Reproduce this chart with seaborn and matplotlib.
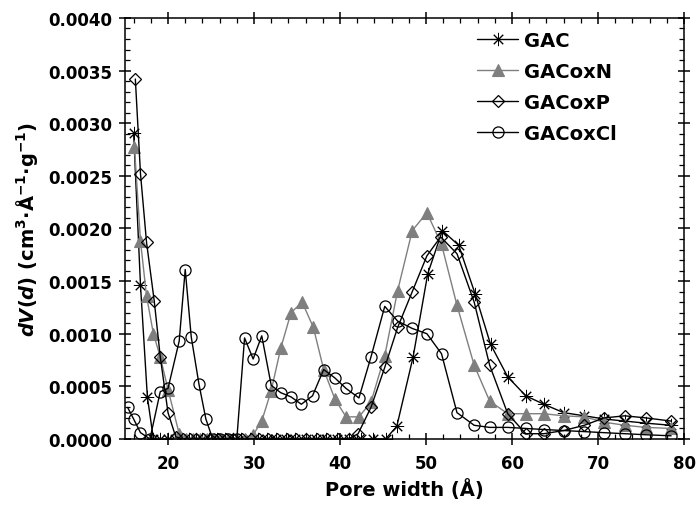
import matplotlib
matplotlib.use("Agg")
import matplotlib.pyplot as plt
from matplotlib.ticker import MultipleLocator, FormatStrFormatter
from matplotlib.lines import Line2D
import pandas as pd
import seaborn as sns

# Pore size distributions (DFT), dV(d) in cm3/(Å·g)
gac_x = [16.0, 16.8, 17.6, 18.3, 19.1, 20.0, 20.8, 21.6, 22.4, 23.2, 24.0, 24.8,
         25.7, 26.6, 27.5, 28.5, 29.5, 30.5, 31.5, 32.6, 33.7, 34.8, 36.0, 37.2,
         38.4, 39.7, 41.0, 42.4, 43.8, 45.3, 46.6, 48.5, 50.2, 51.9, 53.8, 55.7,
         57.5, 59.5, 61.6, 63.7, 66.0, 68.4, 70.7, 73.1, 75.6, 78.5]
gac_y = [0.00291, 0.00146, 0.00040, 0.0, 0.0, 0.0, 0.0, 0.0, 0.0, 0.0, 0.0, 0.0,
         0.0, 0.0, 0.0, 0.0, 0.0, 0.0, 0.0, 0.0, 0.0, 0.0, 0.0, 0.0,
         0.0, 0.0, 0.0, 0.0, 0.0, 0.0, 0.00012, 0.00078, 0.00157, 0.00198, 0.00184, 0.00138,
         0.00090, 0.00059, 0.00041, 0.00033, 0.00025, 0.00022, 0.00019, 0.00017, 0.00015, 0.00013]

gacoxn_x = [16.1, 16.8, 17.5, 18.3, 19.1, 20.0, 21.3, 22.1, 22.9, 23.7, 24.5, 25.3,
            26.1, 27.0, 28.0, 28.9, 29.9, 30.9, 32.0, 33.1, 34.3, 35.6, 36.9, 38.1,
            39.4, 40.7, 42.2, 43.6, 45.2, 46.7, 48.4, 50.1, 51.8, 53.6, 55.6, 57.4,
            59.5, 61.6, 63.7, 66.0, 68.4, 70.7, 73.1, 75.6, 78.5]
gacoxn_y = [0.00277, 0.00188, 0.00136, 0.00100, 0.00078, 0.00047, 0.00005, 0.0, 0.0, 0.0, 0.0, 0.0,
            0.0, 0.0, 0.0, 0.0, 0.00004, 0.00017, 0.00046, 0.00086, 0.00120, 0.00130, 0.00106, 0.00066,
            0.00038, 0.00021, 0.00021, 0.00035, 0.00079, 0.00141, 0.00198, 0.00215, 0.00185, 0.00127, 0.00070, 0.00036,
            0.00024, 0.00024, 0.00024, 0.00022, 0.00021, 0.00016, 0.00013, 0.00011, 0.00010]

gacoxp_x = [16.2, 16.8, 17.5, 18.4, 19.1, 20.0, 20.9, 21.7, 22.5, 23.3, 24.1, 24.9,
            25.8, 26.7, 27.6, 28.6, 29.6, 30.6, 31.6, 32.7, 33.8, 34.9, 36.1, 37.3,
            38.5, 39.8, 41.0, 42.1, 43.6, 45.2, 46.7, 48.4, 50.1, 51.7, 53.6, 55.6,
            57.4, 59.5, 61.6, 63.7, 66.0, 68.4, 70.7, 73.1, 75.6, 78.5]
gacoxp_y = [0.00342, 0.00252, 0.00187, 0.00131, 0.00078, 0.00025, 0.00002, 0.0, 0.0, 0.0, 0.0, 0.0,
            0.0, 0.0, 0.0, 0.0, 0.0, 0.0, 0.0, 0.0, 0.0, 0.0, 0.0, 0.0,
            0.0, 0.0, 0.0, 0.00005, 0.00030, 0.00068, 0.00106, 0.00140, 0.00174, 0.00192, 0.00176, 0.00130,
            0.00070, 0.00024, 0.00005, 0.00005, 0.00008, 0.00013, 0.00020, 0.00022, 0.00020, 0.00017]

gacoxcl_x = [15.3, 16.0, 16.8, 17.9, 19.1, 20.0, 21.3, 22.0, 22.7, 23.6, 24.4, 25.2,
             26.1, 27.0, 28.0, 28.9, 29.9, 30.9, 32.0, 33.1, 34.3, 35.5, 36.8, 38.1,
             39.4, 40.7, 42.2, 43.6, 45.2, 46.7, 48.4, 50.1, 51.8, 53.6, 55.6, 57.4,
             59.5, 61.6, 63.7, 66.0, 68.4, 70.7, 73.1, 75.6, 78.5]
gacoxcl_y = [0.00030, 0.00019, 0.00006, 0.0, 0.00045, 0.00048, 0.00093, 0.00161, 0.00097, 0.00052, 0.00019, 0.0,
             0.0, 0.0, 0.0, 0.00096, 0.00076, 0.00098, 0.00051, 0.00044, 0.00040, 0.00033, 0.00041, 0.00066,
             0.00058, 0.00048, 0.00039, 0.00078, 0.00126, 0.00112, 0.00105, 0.00100, 0.00081, 0.00025, 0.00013, 0.00011,
             0.00011, 0.00010, 0.00009, 0.00008, 0.00007, 0.00006, 0.00005, 0.00004, 0.00003]

series_names = ["GAC", "GACoxN", "GACoxP", "GACoxCl"]
series_data = {
    "GAC": (gac_x, gac_y),
    "GACoxN": (gacoxn_x, gacoxn_y),
    "GACoxP": (gacoxp_x, gacoxp_y),
    "GACoxCl": (gacoxcl_x, gacoxcl_y),
}

frames = []
for name in series_names:
    xs, ys = series_data[name]
    frames.append(pd.DataFrame({"pore": xs, "dv": ys, "sample": name}))
df = pd.concat(frames, ignore_index=True)

sns.set_theme(style="ticks")
plt.rcParams["font.family"] = ["DejaVu Sans"]
plt.rcParams["font.weight"] = "bold"
plt.rcParams["text.color"] = "black"
plt.rcParams["axes.labelcolor"] = "black"
plt.rcParams["xtick.color"] = "black"
plt.rcParams["ytick.color"] = "black"
plt.rcParams["mathtext.fontset"] = "custom"
plt.rcParams["mathtext.rm"] = "DejaVu Sans:bold"
plt.rcParams["mathtext.bf"] = "DejaVu Sans:bold"
plt.rcParams["mathtext.it"] = "DejaVu Sans:italic:bold"
plt.rcParams["mathtext.default"] = "bf"

GREY = "#7f7f7f"
styles = {
    "GAC": dict(color="black", marker=(8, 2, 0), markersize=9.5, mfc="none", mec="black", mew=0.7),
    "GACoxN": dict(color=GREY, marker="^", markersize=8, mfc=GREY, mec=GREY, mew=0.8),
    "GACoxP": dict(color="black", marker="D", markersize=5.8, mfc="none", mec="black", mew=0.9),
    "GACoxCl": dict(color="black", marker="o", markersize=8, mfc="none", mec="black", mew=0.9),
}

fig = plt.figure(figsize=(6.98, 5.10), dpi=100)
ax = fig.add_axes([0.1791, 0.1373, 0.8009, 0.8255])

for name in series_names:
    sub = df[df["sample"] == name]
    sns.lineplot(data=sub, x="pore", y="dv", ax=ax, estimator=None, sort=False,
                 linewidth=1.0, label=name, **styles[name])

ax.set_xlim(15, 80)
ax.set_ylim(0, 0.004)
ax.xaxis.set_major_locator(MultipleLocator(10))
ax.xaxis.set_minor_locator(MultipleLocator(2))
ax.yaxis.set_major_locator(MultipleLocator(0.0005))
ax.yaxis.set_minor_locator(MultipleLocator(0.0001))
ax.yaxis.set_major_formatter(FormatStrFormatter("%.4f"))

for side in ["left", "right", "top", "bottom"]:
    ax.spines[side].set_visible(True)
    ax.spines[side].set_linewidth(1.1)
    ax.spines[side].set_color("black")

ax.tick_params(which="major", direction="inout", length=9, width=1.1,
               top=True, right=True, labelsize=12, colors="black")
ax.tick_params(which="minor", direction="in", length=3.5, width=0.9,
               top=True, right=True)
ax.tick_params(axis="x", which="major", pad=6)
ax.tick_params(axis="y", which="major", pad=5)
for lab in ax.get_xticklabels() + ax.get_yticklabels():
    lab.set_fontweight("bold")
    lab.set_color("black")

ax.set_xlabel("Pore width (Å)", fontsize=14, fontweight="bold", labelpad=5, color="black")
ax.set_ylabel(r"$\mathit{dV(d)}$ (cm$^{3}$$\cdot$Å$^{-1}$$\cdot$g$^{-1}$)",
              fontsize=14, fontweight="bold", color="black")
ax.yaxis.set_label_coords(-0.152, 0.5)

handles = [Line2D([], [], linewidth=1.0, **styles[n]) for n in series_names]
leg = ax.legend(handles, series_names, loc="upper left",
                bbox_to_anchor=(0.616, 0.988), borderaxespad=0, frameon=False,
                handlelength=2.1, handletextpad=0.3, labelspacing=0.62,
                prop=dict(size=14, weight="bold"))
for t in leg.get_texts():
    t.set_color("black")

fig.savefig("out.png", dpi=100)
